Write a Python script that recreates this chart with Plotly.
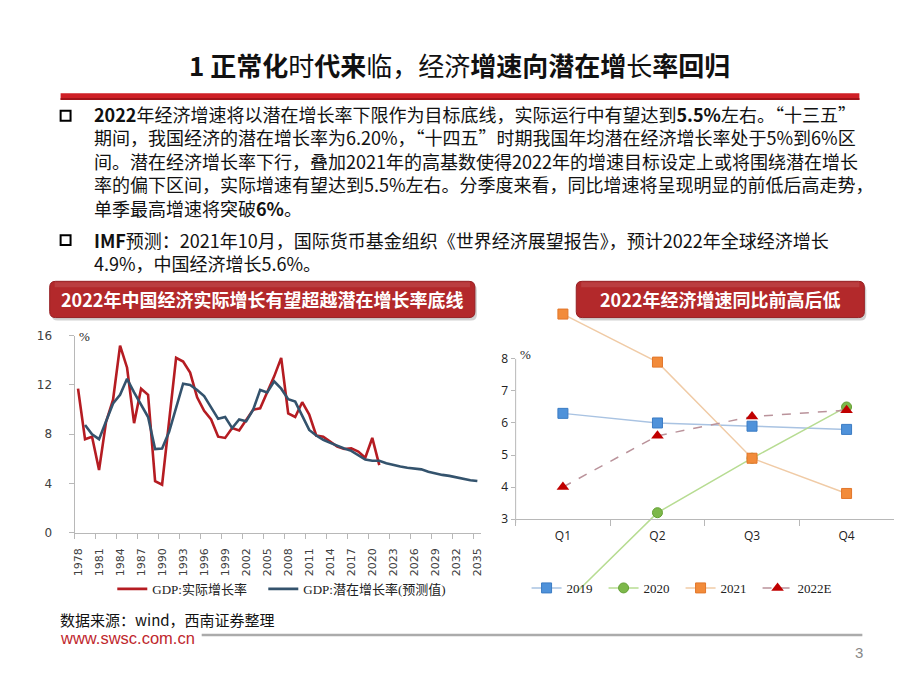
import plotly.graph_objects as go

W, H = 920, 690

# ---------------- data ----------------
years = list(range(1978, 2036))
gdp_actual = [11.7, 7.6, 7.8, 5.1, 9.0, 10.8, 15.2, 13.4, 8.9, 11.7,
              11.2, 4.2, 3.9, 9.3, 14.2, 13.9, 13.0, 11.0, 9.9, 9.2,
              7.8, 7.7, 8.5, 8.3, 9.1, 10.0, 10.1, 11.4, 12.7, 14.2,
              9.7, 9.4, 10.6, 9.6, 7.9, 7.8, 7.4, 7.0, 6.8, 6.85,
              6.6, 6.1, 7.7, 5.5]                      # 1978-2021
gdp_potential = [8.75, 8.0, 7.6, 9.1, 10.5, 11.2, 12.5, 11.4, 10.4, 9.4,
                 6.8, 6.85, 8.2, 10.2, 12.1, 12.0, 11.6, 11.1, 10.2, 9.25,
                 9.4, 8.5, 9.2, 9.05, 10.0, 11.6, 11.4, 12.3, 11.7, 10.85,
                 10.65, 9.5, 8.35, 7.9, 7.55, 7.3, 7.05, 6.85, 6.65, 6.3,
                 5.95, 5.85, 5.85, 5.65, 5.5, 5.38, 5.28, 5.2, 5.15, 4.95,
                 4.8, 4.7, 4.62, 4.5, 4.35, 4.27, 4.2]   # 1979-2035
left_xticks = list(range(1978, 2036, 3))
left_yticks = [0, 4, 8, 12, 16]

quarters = ["Q1", "Q2", "Q3", "Q4"]
q2019 = [6.3, 6.0, 5.9, 5.8]
q2020 = [0.3, 3.2, 4.9, 6.5]
q2021 = [9.4, 7.9, 4.9, 3.8]
q2022e = [4.0, 5.6, 6.2, 6.4]
right_yticks = [3, 4, 5, 6, 7, 8]

title_text = "<b>1 正常化</b>时<b>代来</b>临，经济<b>增速向潜在增</b>长<b>率回归</b>"
para1_lines = [
    "<b>2022</b>年经济增速将以潜在增长率下限作为目标底线，实际运行中有望达到<b>5.5%</b>左右。“十三五”",
    "期间，我国经济的潜在增长率为6.20%，“十四五”时期我国年均潜在经济增长率处于5%到6%区",
    "间。潜在经济增长率下行，叠加2021年的高基数使得2022年的增速目标设定上或将围绕潜在增长",
    "率的偏下区间，实际增速有望达到5.5%左右。分季度来看，同比增速将呈现明显的前低后高走势，",
    "单季最高增速将突破<b>6%</b>。",
]
para2_lines = [
    "<b>IMF</b>预测：2021年10月，国际货币基金组织《世界经济展望报告》，预计2022年全球经济增长",
    "4.9%，中国经济增长5.6%。",
]
banner_left = "2022年中国经济实际增长有望超越潜在增长率底线"
banner_right = "2022年经济增速同比前高后低"
source_text = "数据来源：wind，西南证券整理"

# ---------------- helpers ----------------
def fx(px):
    return px / W

def fy(py):
    return 1 - py / H

CJK = "Noto Sans CJK SC"
SERIF = "Liberation Serif, Noto Sans CJK SC"
BODY_SIZE = 18
LINE_STEP = BODY_SIZE * 1.3

fig = go.Figure()

fig.add_trace(go.Scatter(x=years[:len(gdp_actual)], y=gdp_actual, mode="lines",
                         name="GDP:实际增长率", line=dict(color="#B51C22", width=2.6),
                         xaxis="x", yaxis="y", legend="legend"))
fig.add_trace(go.Scatter(x=years[1:], y=gdp_potential, mode="lines",
                         name="GDP:潜在增长率(预测值)", line=dict(color="#34536D", width=2.6),
                         xaxis="x", yaxis="y", legend="legend3"))

fig.add_trace(go.Scatter(x=quarters, y=q2019, mode="lines+markers", name="2019",
                         line=dict(color="#A9C3E2", width=1.5),
                         marker=dict(symbol="square", size=10, color="#4F92DA",
                                     line=dict(color="#3B7CC4", width=1)),
                         xaxis="x2", yaxis="y2", legend="legend2"))
fig.add_trace(go.Scatter(x=quarters, y=q2020, mode="lines+markers", name="2020",
                         line=dict(color="#B7DC92", width=1.5),
                         marker=dict(symbol="circle", size=10, color="#7DB84A",
                                     line=dict(color="#64A034", width=1)),
                         xaxis="x2", yaxis="y2", legend="legend2"))
fig.add_trace(go.Scatter(x=quarters, y=q2021, mode="lines+markers", name="2021",
                         line=dict(color="#F0CBA6", width=1.5),
                         marker=dict(symbol="square", size=10, color="#F28B3A",
                                     line=dict(color="#E2762A", width=1)),
                         xaxis="x2", yaxis="y2", legend="legend2"))
fig.add_trace(go.Scatter(x=quarters, y=q2022e, mode="lines+markers", name="2022E",
                         line=dict(color="#BA939B", width=1.5, dash="dash"),
                         marker=dict(symbol="triangle-up", size=11, color="#C00000"),
                         xaxis="x2", yaxis="y2", legend="legend2"))

r_y3_px, r_unit_px = 522.7, 32.7
r_top_px, r_bot_px = 300, 597
r_vtop = 3 + (r_y3_px - r_top_px) / r_unit_px
r_vbot = 3 - (r_bot_px - r_y3_px) / r_unit_px

axis_grey = "#B8B8B8"
leg_common = dict(orientation="h", xanchor="left", yanchor="middle",
                  font=dict(family=SERIF, size=13, color="#222"), bgcolor="rgba(0,0,0,0)")
fig.update_layout(
    width=W, height=H, autosize=False,
    margin=dict(l=0, r=0, t=0, b=0),
    paper_bgcolor="white", plot_bgcolor="white",
    xaxis=dict(domain=[fx(72), fx(481)], range=[1977.5, 2035.5], anchor="y",
               showgrid=False, zeroline=False, showline=True, linecolor=axis_grey, linewidth=1,
               tickmode="array", tickvals=left_xticks, ticks="", tickangle=-90,
               ticklabelstandoff=10,
               tickfont=dict(family="DejaVu Sans", size=11, color="#404040"),
               minor=dict(tickmode="array", tickvals=[1977.5 + 3 * i for i in range(20)],
                          ticks="outside", ticklen=5, tickcolor=axis_grey, showgrid=False)),
    yaxis=dict(domain=[fy(536.7), fy(335.5)], range=[0, 16], anchor="x",
               showgrid=False, zeroline=False, showline=True, linecolor=axis_grey, linewidth=1,
               tickmode="array", tickvals=left_yticks, ticks="outside", ticklen=5,
               tickcolor=axis_grey, ticklabelstandoff=14,
               tickfont=dict(family="DejaVu Sans", size=12, color="#404040")),
    xaxis2=dict(domain=[fx(516), fx(896.7)], anchor="free", position=fy(r_y3_px),
                type="category", range=[-0.5, 3.5],
                showgrid=False, zeroline=False, showline=True, linecolor=axis_grey, linewidth=1,
                ticks="outside", tickson="boundaries", ticklen=6, tickcolor=axis_grey,
                ticklabelstandoff=6,
                tickfont=dict(family="Open Sans", size=12, color="#222")),
    yaxis2=dict(domain=[fy(r_bot_px), fy(r_top_px)], range=[r_vbot, r_vtop], anchor="x2",
                showgrid=False, zeroline=False, showline=False,
                tickmode="array", tickvals=right_yticks, ticks="outside", ticklen=4,
                tickcolor=axis_grey,
                tickfont=dict(family="Open Sans", size=12, color="#222")),
    legend=dict(x=fx(110), y=fy(594), **leg_common),
    legend3=dict(x=fx(262), y=fy(594), **leg_common),
    legend2=dict(x=fx(527), y=fy(593), entrywidth=32, entrywidthmode="pixels", **leg_common),
    showlegend=True,
)

shapes = []
shapes.append(dict(type="line", xref="x2 domain", x0=0, x1=0, yref="y2", y0=2.88, y1=8,
                   line=dict(color=axis_grey, width=1)))
shapes.append(dict(type="rect", xref="paper", yref="paper", x0=fx(58), x1=fx(862),
                   y0=fy(95), y1=fy(88), fillcolor="#CF1F26", line=dict(width=0)))
shapes.append(dict(type="rect", xref="paper", yref="paper", x0=fx(58), x1=fx(862),
                   y0=fy(95), y1=fy(93), fillcolor="#A0141A", line=dict(width=0)))
for by in (111, 238):
    shapes.append(dict(type="rect", xref="paper", yref="paper", x0=fx(58), x1=fx(68),
                       y0=fy(by + 5), y1=fy(by - 5), fillcolor="white",
                       line=dict(color="black", width=2)))

def rounded(x0, y0, x1, y1, r):
    rx, ry = r / W, r / H
    X0, X1, Y0, Y1 = fx(x0), fx(x1), fy(y1), fy(y0)
    return (f"M {X0+rx},{Y1} L {X1-rx},{Y1} Q {X1},{Y1} {X1},{Y1-ry} "
            f"L {X1},{Y0+ry} Q {X1},{Y0} {X1-rx},{Y0} L {X0+rx},{Y0} "
            f"Q {X0},{Y0} {X0},{Y0+ry} L {X0},{Y1-ry} Q {X0},{Y1} {X0+rx},{Y1} Z")

for (bx0, bx1) in ((47, 475), (577, 867)):
    shapes.append(dict(type="path", xref="paper", yref="paper",
                       path=rounded(bx0 + 2, 283, bx1 + 2, 320, 6),
                       fillcolor="rgba(0,0,0,0.18)", line=dict(width=0)))
    shapes.append(dict(type="path", xref="paper", yref="paper",
                       path=rounded(bx0, 280, bx1, 317, 6),
                       fillcolor="#B3292B", line=dict(color="#962024", width=1)))
    shapes.append(dict(type="rect", xref="paper", yref="paper", x0=fx(bx0 + 5), x1=fx(bx1 - 5),
                       y0=fy(286), y1=fy(281), fillcolor="rgba(255,255,255,0.10)",
                       line=dict(width=0)))
shapes.append(dict(type="line", xref="paper", yref="paper", x0=fx(200), x1=fx(865),
                   y0=fy(641), y1=fy(641), line=dict(color="#ABABAB", width=2.5)))
fig.update_layout(shapes=shapes)

ann = []
ann.append(dict(text=title_text, x=fx(459), y=fy(59), xref="paper", yref="paper",
                showarrow=False, xanchor="center", yanchor="middle",
                font=dict(family=CJK, size=26, color="#111")))
ann.append(dict(text="<br>".join(para1_lines), x=fx(91), y=fy(110.5 + 2 * LINE_STEP),
                xref="paper", yref="paper", showarrow=False, xanchor="left",
                yanchor="middle", align="left", borderpad=0,
                font=dict(family=CJK, size=BODY_SIZE, color="#111")))
ann.append(dict(text="<br>".join(para2_lines), x=fx(91), y=fy(238 + 0.5 * LINE_STEP),
                xref="paper", yref="paper", showarrow=False, xanchor="left",
                yanchor="middle", align="left", borderpad=0,
                font=dict(family=CJK, size=BODY_SIZE, color="#111")))
ann.append(dict(text="<b>" + banner_left + "</b>", x=fx(261), y=fy(298.5), xref="paper",
                yref="paper", showarrow=False, xanchor="center", yanchor="middle",
                font=dict(family=CJK, size=18, color="white")))
ann.append(dict(text="<b>" + banner_right + "</b>", x=fx(722), y=fy(298.5), xref="paper",
                yref="paper", showarrow=False, xanchor="center", yanchor="middle",
                font=dict(family=CJK, size=18, color="white")))
ann.append(dict(text="%", x=fx(82), y=fy(336), xref="paper", yref="paper", showarrow=False,
                xanchor="center", yanchor="middle",
                font=dict(family="Liberation Serif", size=13, color="#222")))
ann.append(dict(text="%", x=fx(526), y=fy(355), xref="paper", yref="paper", showarrow=False,
                xanchor="center", yanchor="middle",
                font=dict(family="Liberation Serif", size=13, color="#222")))
ann.append(dict(text=source_text, x=fx(55), y=fy(625), xref="paper", yref="paper",
                showarrow=False, xanchor="left", yanchor="middle",
                font=dict(family=CJK, size=15, color="#111")))
ann.append(dict(text="www.swsc.com.cn", x=fx(55), y=fy(644), xref="paper", yref="paper",
                showarrow=False, xanchor="left", yanchor="middle",
                font=dict(family="Liberation Sans", size=16.5, color="#C0272D")))
ann.append(dict(text="3", x=fx(862), y=fy(659), xref="paper", yref="paper",
                showarrow=False, xanchor="center", yanchor="middle",
                font=dict(family="Liberation Sans", size=15, color="#888")))
fig.update_layout(annotations=ann)

fig.write_html("out.html", config={"displayModeBar": False},
               post_script="document.body.style.margin='0';document.body.style.overflow='hidden';")
